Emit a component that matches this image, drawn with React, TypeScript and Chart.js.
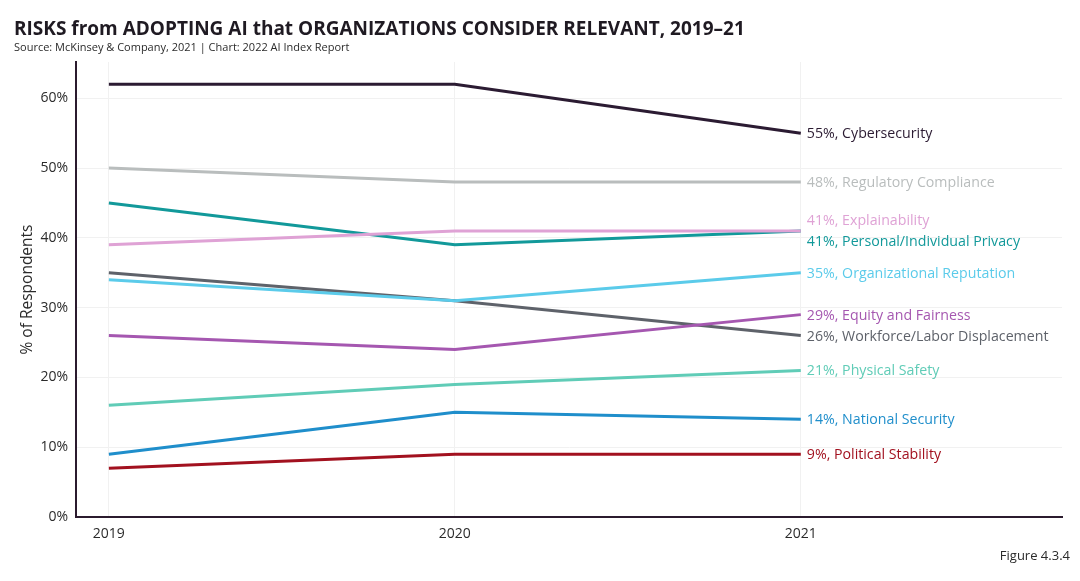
import React, { useEffect, useRef } from "react";
import { Chart, registerables } from "chart.js";

Chart.register(...registerables);

const years = [2019, 2020, 2021];
const seriesNames = [
  "Cybersecurity",
  "Regulatory Compliance",
  "Explainability",
  "Personal/Individual Privacy",
  "Organizational Reputation",
  "Equity and Fairness",
  "Workforce/Labor Displacement",
  "Physical Safety",
  "National Security",
  "Political Stability",
];
const cybersecurity = [62, 62, 55];
const regulatoryCompliance = [50, 48, 48];
const explainability = [39, 41, 41];
const personalPrivacy = [45, 39, 41];
const orgReputation = [34, 31, 35];
const equityFairness = [26, 24, 29];
const workforceDisplacement = [35, 31, 26];
const physicalSafety = [16, 19, 21];
const nationalSecurity = [9, 15, 14];
const politicalStability = [7, 9, 9];
const seriesValues = [
  cybersecurity,
  regulatoryCompliance,
  explainability,
  personalPrivacy,
  orgReputation,
  equityFairness,
  workforceDisplacement,
  physicalSafety,
  nationalSecurity,
  politicalStability,
];
const seriesColors = [
  "#2b1b32",
  "#b9bdbd",
  "#dfa2d5",
  "#12999a",
  "#5bcbea",
  "#a557b0",
  "#5e626a",
  "#60ccb7",
  "#1f8ecb",
  "#a2111f",
];
const yTicks = [0, 10, 20, 30, 40, 50, 60];

const FONT = "'Open Sans', sans-serif";

const endLabels = {
  id: "endLabels",
  afterDatasetsDraw(chart: any) {
    const ctx = chart.ctx;
    const items: { y: number; x: number; text: string; color: string }[] = [];
    chart.data.datasets.forEach((ds: any, i: number) => {
      const meta = chart.getDatasetMeta(i);
      const pt = meta.data[meta.data.length - 1];
      const v = ds.data[ds.data.length - 1].y;
      items.push({ x: pt.x + 6, y: pt.y, text: `${v}%, ${ds.label}`, color: ds.borderColor });
    });
    // simple collision avoidance
    const sorted = [...items].sort((a, b) => a.y - b.y);
    for (let k = 0; k < 5; k++) {
      for (let i = 1; i < sorted.length; i++) {
        const gap = sorted[i].y - sorted[i - 1].y;
        if (gap < 21) {
          const d = (21 - gap) / 2;
          sorted[i].y += d;
          sorted[i - 1].y -= d;
        }
      }
    }
    ctx.save();
    ctx.font = `14.2px ${FONT}`;
    ctx.textBaseline = "middle";
    ctx.textAlign = "left";
    sorted.forEach((it) => {
      ctx.fillStyle = it.color;
      ctx.fillText(it.text, it.x, it.y + 1);
    });
    ctx.restore();
  },
};

export default function App() {
  const ref = useRef<HTMLCanvasElement>(null);
  useEffect(() => {
    if (!ref.current) return;
    const chart = new Chart(ref.current, {
      type: "line",
      data: {
        datasets: seriesNames.map((name, i) => ({
          label: name,
          data: years.map((yr, j) => ({ x: yr, y: seriesValues[i][j] })),
          borderColor: seriesColors[i],
          backgroundColor: seriesColors[i],
          borderWidth: 3,
          pointRadius: 0,
          tension: 0,
        })),
      },
      options: {
        animation: false,
        responsive: false,
        maintainAspectRatio: false,
        layout: { padding: { left: 0, right: 18, top: 62, bottom: 0 } },
        plugins: { legend: { display: false }, tooltip: { enabled: false } },
        scales: {
          x: {
            type: "linear",
            min: 2018.905,
            max: 2021.755,
            afterBuildTicks: (s: any) => {
              s.ticks = years.map((v) => ({ value: v }));
            },
            afterFit: (s: any) => {
              s.height = 64;
            },
            grid: { color: "#f1f1f1", lineWidth: 1, drawTicks: false },
            border: { display: true, color: "#2b1b2e", width: 2 },
            ticks: {
              padding: 9,
              color: "#2b2b2b",
              font: { family: FONT, size: 14 },
              callback: (v: any) => String(v),
            },
          },
          y: {
            type: "linear",
            min: 0,
            max: 65.2,
            afterBuildTicks: (s: any) => {
              s.ticks = yTicks.map((v) => ({ value: v }));
            },
            afterFit: (s: any) => {
              s.width = 76;
            },
            grid: { color: "#f1f1f1", lineWidth: 1, drawTicks: false },
            border: { display: true, color: "#2b1b2e", width: 2 },
            ticks: {
              padding: 8,
              color: "#2b2b2b",
              font: { family: FONT, size: 14 },
              callback: (v: any) => `${v}%`,
            },
            title: {
              display: true,
              text: "% of Respondents",
              color: "#2b2b2b",
              font: { family: FONT, size: 15.5 },
              padding: { top: 18.5, bottom: 0 },
            },
          },
        },
      },
      plugins: [endLabels],
    } as any);
    return () => chart.destroy();
  }, []);

  return (
    <div
      style={{
        position: "fixed",
        left: 0,
        top: 0,
        width: 1080,
        height: 581,
        background: "#fff",
        overflow: "hidden",
      }}
    >
      <canvas ref={ref} width={1080} height={581} style={{ position: "absolute", left: 0, top: 0 }} />
      <div
        style={{
          position: "absolute",
          left: 14,
          top: 15,
          fontFamily: FONT,
          fontWeight: 700,
          fontSize: 19,
          color: "#1f1a22",
          whiteSpace: "nowrap",
        }}
      >
        RISKS from ADOPTING AI that ORGANIZATIONS CONSIDER RELEVANT, 2019–21
      </div>
      <div
        style={{
          position: "absolute",
          left: 14,
          top: 39,
          fontFamily: FONT,
          fontSize: 11,
          color: "#2b2b2b",
          whiteSpace: "nowrap",
        }}
      >
        Source: McKinsey &amp; Company, 2021 | Chart: 2022 AI Index Report
      </div>
      <div
        style={{
          position: "absolute",
          right: 10,
          top: 546,
          fontFamily: FONT,
          fontSize: 13,
          color: "#2b2b2b",
          whiteSpace: "nowrap",
        }}
      >
        Figure 4.3.4
      </div>
    </div>
  );
}
